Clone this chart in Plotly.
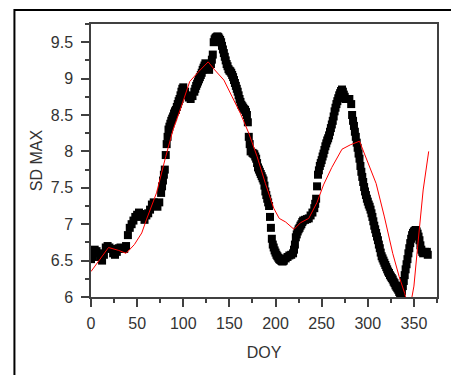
import plotly.graph_objects as go

# Black observed series (DOY, SD MAX) - main readings
doy = [0,2,4,6,8,10,12,14,16,18,20,22,24,26,28,30,32,34,36,38,40,42,44,46,48,50,52,54,56,58,
       60,62,64,66,68,70,72,74,76,78,80,81,82,84,86,88,90,92,94,96,98,100,102,104,106,108,110,
       112,114,116,118,120,122,124,126,128,130,132,133,135,137,139,141,143,145,147,149,151,153,
       155,157,159,161,163,165,167,169,170,171,172,173,175,177,179,181,183,185,187,189,191,193,
       194,195,196,197,199,201,203,205,207,209,211,213,215,217,219,220,221,222,224,226,228,230,
       232,234,236,238,240,242,244,245,246,248,250,252,254,256,258,260,262,264,266,268,270,272,
       274,276,278,280,282,283,285,287,289,291,293,295,297,299,301,303,305,307,309,311,313,315,
       317,319,321,323,325,327,329,331,333,335,336,337,338,340,342,344,346,348,350,352,354,356,
       358,360,362,364,365]
sd_max = [6.52,6.55,6.65,6.63,6.6,6.55,6.5,6.58,6.68,6.7,6.68,6.66,6.6,6.58,6.62,6.67,6.68,6.67,
          6.66,6.7,6.85,6.95,7.0,7.05,7.1,7.13,7.16,7.14,7.1,7.06,7.12,7.15,7.2,7.27,7.3,7.27,7.24,
          7.3,7.43,7.6,7.75,7.95,8.1,8.3,8.38,8.45,8.52,8.57,8.65,8.72,8.82,8.88,8.82,8.77,8.74,
          8.72,8.76,8.82,8.9,8.96,9.02,9.08,9.15,9.21,9.18,9.12,9.2,9.33,9.5,9.56,9.58,9.55,9.5,
          9.4,9.3,9.2,9.13,9.1,9.05,8.98,8.9,8.82,8.72,8.64,8.6,8.57,8.5,8.4,8.2,8.1,8.0,7.98,7.96,
          7.9,7.78,7.72,7.66,7.6,7.45,7.35,7.25,7.1,6.95,6.8,6.72,6.64,6.58,6.54,6.51,6.49,6.5,
          6.53,6.55,6.57,6.58,6.6,6.65,6.72,6.82,6.9,6.95,7.0,7.05,7.06,7.07,7.08,7.12,7.16,7.22,
          7.35,7.52,7.68,7.8,7.88,7.97,8.07,8.15,8.22,8.32,8.42,8.55,8.65,8.73,8.8,8.85,8.78,8.72,
          8.72,8.72,8.65,8.5,8.35,8.2,8.05,7.9,7.72,7.58,7.45,7.35,7.27,7.2,7.1,6.98,6.88,6.78,
          6.67,6.56,6.5,6.44,6.38,6.33,6.28,6.24,6.19,6.14,6.1,6.05,6.03,6.08,6.15,6.3,6.45,6.6,
          6.74,6.85,6.9,6.92,6.87,6.78,6.65,6.6,6.62,6.62,6.58]

# Extra readings on the steep parts of the black band
doy_extra = [77,79,83,85,87,89,91,93,95,97,99,113,115,117,119,121,123,131,134,136,138,140,142,144,
             146,148,150,152,154,156,158,160,162,164,166,168,176,178,180,182,184,186,188,190,192,
             198,200,202,204,206,208,223,225,227,229,243,247,249,251,253,255,257,259,261,263,265,
             267,269,271,273,275,284,286,288,290,292,294,296,298,300,302,304,306,308,310,312,314,
             316,318,320,322,324,326,328,330,332,334,339,341,343,345,347,349,351,353,355,357,359]
sd_extra = [7.52,7.68,8.2,8.34,8.42,8.48,8.55,8.61,8.69,8.77,8.86,8.86,8.93,8.99,9.05,9.12,9.18,
            9.26,9.54,9.57,9.57,9.53,9.45,9.35,9.25,9.17,9.11,9.08,9.02,8.94,8.86,8.77,8.68,8.62,
            8.58,8.54,7.97,7.93,7.84,7.75,7.69,7.63,7.53,7.4,7.3,6.68,6.61,6.56,6.52,6.5,6.49,6.86,
            6.93,6.98,7.03,7.28,7.74,7.84,7.93,8.02,8.11,8.18,8.27,8.37,8.48,8.6,8.69,8.77,8.83,
            8.82,8.75,8.42,8.27,8.12,7.97,7.8,7.65,7.51,7.4,7.31,7.24,7.15,7.04,6.93,6.83,6.72,
            6.61,6.53,6.47,6.41,6.35,6.3,6.26,6.21,6.16,6.12,6.07,6.22,6.38,6.52,6.67,6.8,6.88,
            6.91,6.9,6.83,6.71,6.62]

# Red fitted line
fit_doy = [0,19,30,38,47,55,60,71,81,89,98,107,117,127,134,144,153,162,171,180,189,198,204,211,
           220,227,236,245,252,261,272,281,291,300,309,318,327,334,340,345,350,354,360,366]
fit_val = [6.35,6.68,6.64,6.6,6.72,6.88,7.06,7.43,7.93,8.3,8.62,8.96,9.1,9.23,9.12,8.98,8.75,
           8.52,8.25,7.93,7.56,7.22,7.08,7.03,6.93,7.02,7.08,7.3,7.54,7.78,8.03,8.09,8.14,7.84,
           7.56,7.1,6.6,6.28,6.05,5.8,6.15,6.69,7.47,8.0]

x_ticks = [0, 50, 100, 150, 200, 250, 300, 350]
y_ticks = [6, 6.5, 7, 7.5, 8, 8.5, 9, 9.5]
y_labels = ["6", "6.5", "7", "7.5", "8", "8.5", "9", "9.5"]

pairs = sorted(zip(doy + doy_extra, sd_max + sd_extra))
obs_x = [p[0] for p in pairs]
obs_y = [p[1] for p in pairs]

fig = go.Figure()
fig.add_trace(go.Scatter(x=obs_x, y=obs_y, mode="markers",
                         marker=dict(symbol="square", size=8, color="black",
                                     line=dict(width=0)),
                         showlegend=False))
fig.add_trace(go.Scatter(x=fit_doy, y=fit_val, mode="lines",
                         line=dict(color="red", width=1), showlegend=False))

font = dict(family="Liberation Sans, Arial, sans-serif", size=16, color="#333333")
axis_common = dict(showgrid=False, zeroline=False, showline=True, linecolor="#404040",
                   linewidth=1.5, mirror=True, ticks="outside", ticklen=8, tickwidth=1.5,
                   tickcolor="#404040", tickfont=font)

fig.update_xaxes(range=[0, 375], tickvals=x_ticks, ticktext=[str(v) for v in x_ticks],
                 ticklabelstandoff=3,
                 minor=dict(ticks="outside", ticklen=4, tickwidth=1.5, tickcolor="#404040",
                            dtick=25, tick0=0, showgrid=False),
                 title=dict(text="DOY", font=font, standoff=16), **axis_common)
fig.update_yaxes(range=[6, 9.75], tickvals=y_ticks, ticktext=y_labels,
                 ticklabelstandoff=5,
                 minor=dict(ticks="outside", ticklen=4, tickwidth=1.5, tickcolor="#404040",
                            dtick=0.25, tick0=6, showgrid=False),
                 title=dict(text="SD MAX", font=font, standoff=4), **axis_common)

fig.add_shape(type="path", xref="paper", yref="paper",
              path="M -0.2213 -0.35 L -0.2213 1.0513 L 1.2 1.0513",
              line=dict(color="black", width=2))

fig.update_layout(width=451, height=375, margin=dict(l=91, r=12, t=24, b=78),
                  paper_bgcolor="white", plot_bgcolor="white")

fig.write_html("out.html")
